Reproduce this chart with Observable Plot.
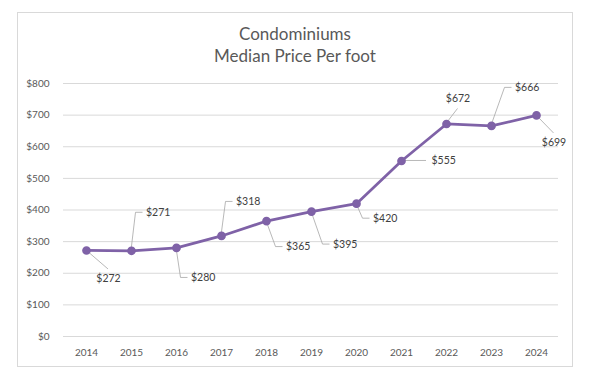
<!DOCTYPE html>
<html>
<head>
<meta charset="utf-8">
<script src="https://cdn.jsdelivr.net/npm/d3@7"></script>
<script src="https://cdn.jsdelivr.net/npm/@observablehq/plot@0.6"></script>
<style>
  body { margin: 0; background: #fff; }
  #chart { position: relative; width: 591px; height: 380px; font-family: Lato, "Open Sans", sans-serif; }
  #box { position: absolute; left: 17px; top: 12px; width: 556px; height: 355px; border: 1px solid #d9d9d9; box-sizing: border-box; }
  #title { position: absolute; left: 17px; width: 556px; top: 23px; text-align: center; color: #595959; font-size: 17px; line-height: 22px; }
  #chart svg { position: absolute; left: 0; top: 0; }
</style>
</head>
<body>
<div id="chart">
  <div id="box"></div>
  <div id="title">Condominiums<br>Median Price Per foot</div>
</div>
<script>
// Median condominium price per square foot, by year
const years = ["2014", "2015", "2016", "2017", "2018", "2019", "2020", "2021", "2022", "2023", "2024"];
const prices = [272, 271, 280, 318, 365, 395, 420, 555, 672, 666, 699];
const yTicks = [0, 100, 200, 300, 400, 500, 600, 700, 800];

const data = years.map((year, i) => ({year, price: prices[i]}));

const purple = "#7f62a7";
const leaderColor = "#a6a6a6";

// Where each data label sits relative to its point (pixels), and its text anchor
const labelPlacement = [
  {dx: 22, dy: 28, anchor: "middle"},
  {dx: 14.5, dy: -38, anchor: "start"},
  {dx: 14.5, dy: 30, anchor: "start"},
  {dx: 14.5, dy: -34, anchor: "start"},
  {dx: 19.5, dy: 26, anchor: "start"},
  {dx: 21.5, dy: 33, anchor: "start"},
  {dx: 16.5, dy: 15, anchor: "start"},
  {dx: 30, dy: 0, anchor: "start"},
  {dx: 11.5, dy: -25, anchor: "middle"},
  {dx: 23.5, dy: -38, anchor: "start"},
  {dx: 17.5, dy: 27, anchor: "middle"}
];

const fmt = v => "$" + v;

// Leader lines from each point to its label
function leaders(index, scales) {
  const g = d3.create("svg:g")
    .attr("fill", "none")
    .attr("stroke", leaderColor)
    .attr("stroke-width", 0.8);
  data.forEach((d, i) => {
    const p = labelPlacement[i];
    const px = scales.x(d.year), py = scales.y(d.price);
    const lx = px + p.dx, ly = py + p.dy;
    let pts;
    if (p.anchor === "start") {
      pts = Math.abs(p.dy) < 3
        ? [[px, py], [lx - 5, ly]]
        : [[px, py], [lx - 10, ly], [lx - 3, ly]];
    } else {
      pts = [[px, py], [lx, p.dy > 0 ? ly - 9 : ly + 10]];
    }
    g.append("path").attr("d", d3.line()(pts));
  });
  return g.node();
}

const labelMarks = data.map((d, i) => Plot.text([d], {
  x: "year",
  y: "price",
  text: r => fmt(r.price),
  dx: labelPlacement[i].dx,
  dy: labelPlacement[i].dy,
  textAnchor: labelPlacement[i].anchor,
  fill: "#404040",
  fontSize: 10.5
}));

const chart = Plot.plot({
  width: 591,
  height: 380,
  marginLeft: 63,
  marginRight: 33,
  marginTop: 83,
  marginBottom: 44,
  style: {fontFamily: "Lato, 'Open Sans', sans-serif", fontSize: "10px", color: "#595959", background: "transparent"},
  x: {type: "point", domain: years, padding: 0.5, tickSize: 0, tickPadding: 12, label: null},
  y: {domain: [0, 800], ticks: yTicks, tickFormat: fmt, tickSize: 0, tickPadding: 14, label: null},
  marks: [
    Plot.ruleY(yTicks, {stroke: "#d9d9d9", strokeWidth: 1}),
    leaders,
    Plot.line(data, {x: "year", y: "price", stroke: purple, strokeWidth: 2.75}),
    Plot.dot(data, {x: "year", y: "price", r: 3.6, fill: purple, stroke: purple}),
    ...labelMarks
  ]
});

document.getElementById("chart").appendChild(chart);
</script>
</body>
</html>
